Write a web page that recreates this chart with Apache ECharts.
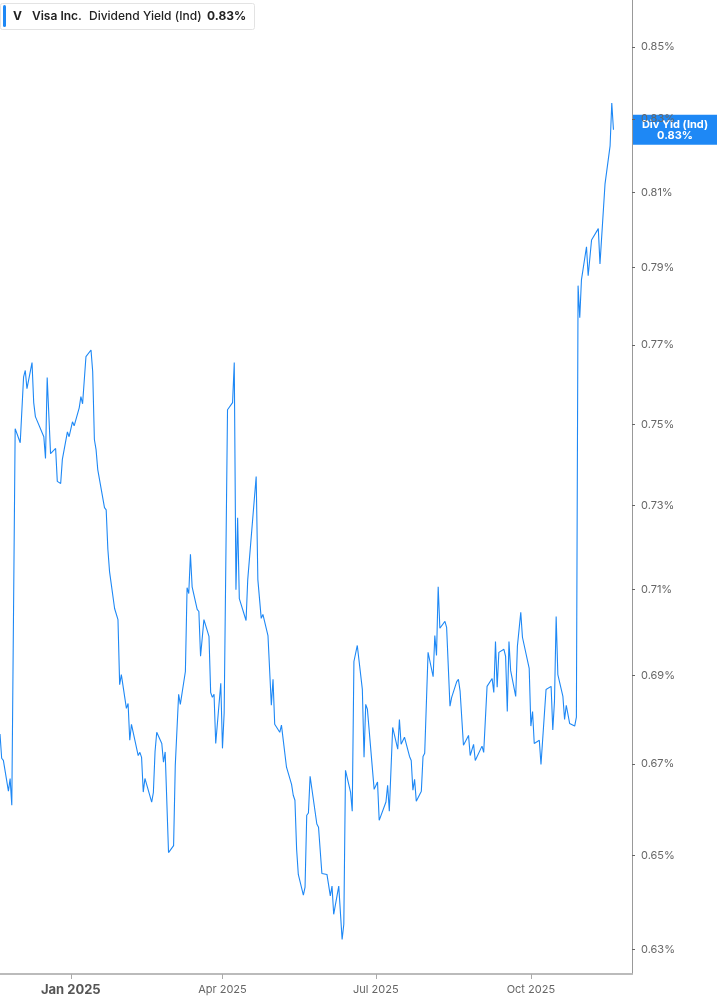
<!DOCTYPE html>
<html>
<head>
<meta charset="utf-8">
<title>Visa Inc. Dividend Yield (Ind)</title>
<script src="https://cdn.jsdelivr.net/npm/echarts@6.0.0/dist/echarts.min.js"></script>
<style>
  html, body { margin: 0; padding: 0; background: #fff; }
  #chart { width: 717px; height: 1005px; }
</style>
</head>
<body>
<div id="chart"></div>
<script>
// trading days (one per visible vertex)
var dates = [
  '2024-11-20','2024-11-21','2024-11-22','2024-11-25','2024-11-26','2024-11-27','2024-11-29',
  '2024-12-02','2024-12-04','2024-12-05','2024-12-06','2024-12-09','2024-12-10','2024-12-11','2024-12-16','2024-12-17',
  '2024-12-18','2024-12-20','2024-12-23','2024-12-24','2024-12-26','2024-12-27','2024-12-30','2024-12-31',
  '2025-01-02','2025-01-03','2025-01-06','2025-01-07','2025-01-08','2025-01-10','2025-01-13','2025-01-14','2025-01-15',
  '2025-01-16','2025-01-17','2025-01-21','2025-01-22','2025-01-23','2025-01-24','2025-01-27','2025-01-28','2025-01-29',
  '2025-01-30','2025-01-31',
  '2025-02-03','2025-02-04','2025-02-05','2025-02-06','2025-02-10','2025-02-11','2025-02-12','2025-02-13','2025-02-14',
  '2025-02-18','2025-02-19','2025-02-20','2025-02-21','2025-02-24','2025-02-25','2025-02-26','2025-02-28',
  '2025-03-03','2025-03-04','2025-03-05','2025-03-06','2025-03-07','2025-03-10','2025-03-11','2025-03-12','2025-03-13',
  '2025-03-14','2025-03-17','2025-03-18','2025-03-19','2025-03-20','2025-03-21','2025-03-24','2025-03-25','2025-03-26',
  '2025-03-27','2025-03-28','2025-03-31',
  '2025-04-01','2025-04-02','2025-04-03','2025-04-04','2025-04-07','2025-04-08','2025-04-09','2025-04-10','2025-04-11',
  '2025-04-15','2025-04-16','2025-04-21','2025-04-22','2025-04-24','2025-04-25','2025-04-28','2025-04-30',
  '2025-05-01','2025-05-02','2025-05-05','2025-05-06','2025-05-09','2025-05-12','2025-05-13','2025-05-14','2025-05-15',
  '2025-05-16','2025-05-19','2025-05-20','2025-05-21','2025-05-22','2025-05-23','2025-05-27','2025-05-28','2025-05-30',
  '2025-06-02','2025-06-03','2025-06-04','2025-06-05','2025-06-06','2025-06-09','2025-06-11','2025-06-12','2025-06-13',
  '2025-06-16','2025-06-17','2025-06-18','2025-06-20','2025-06-23','2025-06-24','2025-06-25','2025-06-26','2025-06-30',
  '2025-07-01','2025-07-02','2025-07-03','2025-07-07','2025-07-08','2025-07-09','2025-07-11','2025-07-14','2025-07-15',
  '2025-07-16','2025-07-18','2025-07-21','2025-07-22','2025-07-23','2025-07-24','2025-07-25','2025-07-28','2025-07-29',
  '2025-07-30',
  '2025-08-01','2025-08-04','2025-08-05','2025-08-06','2025-08-07','2025-08-08','2025-08-11','2025-08-12','2025-08-14',
  '2025-08-15','2025-08-18','2025-08-19','2025-08-20','2025-08-21','2025-08-22','2025-08-25','2025-08-26','2025-08-28',
  '2025-08-29',
  '2025-09-02','2025-09-03','2025-09-04','2025-09-05','2025-09-08','2025-09-09','2025-09-10','2025-09-11','2025-09-12',
  '2025-09-15','2025-09-16','2025-09-17','2025-09-18','2025-09-19','2025-09-22','2025-09-23','2025-09-24','2025-09-25',
  '2025-09-26','2025-09-30',
  '2025-10-01','2025-10-02','2025-10-03','2025-10-06','2025-10-07','2025-10-10','2025-10-13','2025-10-14','2025-10-15',
  '2025-10-16','2025-10-17','2025-10-20','2025-10-21','2025-10-22','2025-10-24','2025-10-27','2025-10-28','2025-10-29',
  '2025-10-30','2025-10-31',
  '2025-11-03','2025-11-04','2025-11-05','2025-11-06','2025-11-10','2025-11-11','2025-11-12','2025-11-14','2025-11-17',
  '2025-11-18','2025-11-19'
];

// dividend yield (ind), in percent
var yields = [
  0.6767, 0.6713, 0.6708, 0.6640, 0.6668, 0.6609, 0.7489,
  0.7454, 0.7619, 0.7635, 0.7589, 0.7655, 0.7554, 0.7519, 0.7469, 0.7415,
  0.7617, 0.7427, 0.7440, 0.7359, 0.7354, 0.7413, 0.7481, 0.7469,
  0.7506, 0.7496, 0.7541, 0.7569, 0.7551, 0.7670, 0.7687, 0.7632, 0.7462,
  0.7437, 0.7388, 0.7295, 0.7290, 0.7195, 0.7142, 0.7055, 0.7054, 0.7029,
  0.6879, 0.6902,
  0.6825, 0.6836, 0.6753, 0.6789, 0.6719, 0.6726, 0.6715, 0.6638, 0.6668,
  0.6616, 0.6637, 0.6728, 0.6771, 0.6746, 0.6704, 0.6727, 0.6506,
  0.6521, 0.6697, 0.6693, 0.6857, 0.6834, 0.6909, 0.7104, 0.7090, 0.7183,
  0.7106, 0.7053, 0.7048, 0.6944, 0.6948, 0.7029, 0.6990, 0.6861, 0.6850,
  0.6857, 0.6746, 0.6882,
  0.6735, 0.6814, 0.6816, 0.7536, 0.7554, 0.7655, 0.7099, 0.7271, 0.7078,
  0.7027, 0.7123, 0.7371, 0.7123, 0.7032, 0.7041, 0.6992, 0.6832,
  0.6891, 0.6789, 0.6771, 0.6787, 0.6693, 0.6655, 0.6631, 0.6620, 0.6513,
  0.6459, 0.6415, 0.6432, 0.6587, 0.6592, 0.6673, 0.6568, 0.6561, 0.6461,
  0.6459, 0.6455, 0.6413, 0.6434, 0.6374, 0.6434, 0.6321, 0.6353, 0.6686,
  0.6638, 0.6596, 0.6932, 0.6969, 0.6868, 0.6715, 0.6834, 0.6823, 0.6644,
  0.6640, 0.6660, 0.6576, 0.6616, 0.6653, 0.6596, 0.6782, 0.6733, 0.6800,
  0.6744, 0.6760, 0.6717, 0.6708, 0.6642, 0.6666, 0.6618, 0.6640, 0.6717,
  0.6724,
  0.6953, 0.6897, 0.6992, 0.6946, 0.7106, 0.7009, 0.7025, 0.7011, 0.6830,
  0.6850, 0.6886, 0.6891, 0.6864, 0.6863, 0.6742, 0.6764, 0.6719, 0.6744,
  0.6708,
  0.6740, 0.6726, 0.6724, 0.6875, 0.6893, 0.6861, 0.6978, 0.6873, 0.6953,
  0.6960, 0.6944, 0.6818, 0.6978, 0.6911, 0.6852, 0.6967, 0.6969, 0.7046,
  0.6988, 0.6916,
  0.6785, 0.6818, 0.6746, 0.6753, 0.6699, 0.6868, 0.6875, 0.6776, 0.6841,
  0.7036, 0.6902, 0.6852, 0.6800, 0.6832, 0.6791, 0.6785, 0.6805, 0.7853,
  0.7770, 0.7868,
  0.7955, 0.7879, 0.7881, 0.7973, 0.8003, 0.7910, 0.7911, 0.8123, 0.8226,
  0.8344, 0.8270
];

var yTicks = [0.63, 0.65, 0.67, 0.69, 0.71, 0.73, 0.75, 0.77, 0.79, 0.81, 0.83, 0.85];
var xTicks = ['2025-01-01', '2025-04-01', '2025-07-01', '2025-10-01'];
var xRange = ['2024-11-20', '2025-11-30'];
var monthNames = ['Jan','Feb','Mar','Apr','May','Jun','Jul','Aug','Sep','Oct','Nov','Dec'];

var blue = '#1e88f5';
var font = 'Inter, "Noto Sans", sans-serif';

function toTime(s) {
  var p = s.split('-');
  return new Date(+p[0], +p[1] - 1, +p[2]).getTime();
}

var chart = echarts.init(document.getElementById('chart'));

var points = dates.map(function (d, i) { return [toTime(d), yields[i]]; });
var xTickTimes = xTicks.map(toTime);
var last = yields[yields.length - 1];

chart.setOption({
  animation: false,
  grid: { left: 0, right: 85, top: 0, bottom: 31 },
  xAxis: {
    type: 'value',
    min: toTime(xRange[0]),
    max: toTime(xRange[1]),
    axisLine: { show: true, lineStyle: { color: '#bbb', width: 2 } },
    axisTick: { show: true, customValues: xTickTimes, length: 5, lineStyle: { color: '#aaa' } },
    axisLabel: {
      customValues: xTickTimes,
      margin: 10,
      color: '#666',
      fontSize: 11,
      fontFamily: font,
      formatter: function (v) {
        var d = new Date(v);
        var s = monthNames[d.getMonth()] + ' ' + d.getFullYear();
        return d.getMonth() === 0 ? '{yr|' + s + '}' : s;
      },
      rich: {
        yr: { fontSize: 13, fontWeight: 'bold', color: '#555', fontFamily: font }
      }
    },
    splitLine: { show: false }
  },
  yAxis: {
    type: 'log',
    logBase: 10,
    position: 'right',
    min: 0.6249,
    max: 0.8634,
    axisLine: { show: true, lineStyle: { color: '#999' } },
    axisTick: { show: true, customValues: yTicks, length: 3, lineStyle: { color: '#666' } },
    axisLabel: {
      customValues: yTicks,
      margin: 9,
      color: '#666',
      fontSize: 11,
      fontFamily: font,
      formatter: function (v) { return v.toFixed(2) + '%'; }
    },
    splitLine: { show: false }
  },
  series: [{
    type: 'line',
    data: points,
    showSymbol: false,
    symbol: 'none',
    lineStyle: { color: blue, width: 1.1 },
    itemStyle: { color: blue }
  }]
});

// header chip and current value flag on the axis
var py = chart.convertToPixel({ gridIndex: 0 }, points[points.length - 1])[1];

chart.setOption({
  graphic: [
    {
      type: 'group', x: 0, y: 0, z: 100,
      children: [
        { type: 'rect', shape: { x: 0.5, y: 3.5, width: 254, height: 26, r: 2 },
          style: { fill: '#fff', stroke: '#e3e3e3', lineWidth: 1 } },
        { type: 'rect', shape: { x: 3, y: 5, width: 3, height: 22, r: 1.5 }, style: { fill: blue } },
        { type: 'text', x: 13, y: 16, style: { text: 'V', font: 'bold 12px ' + font, fill: '#222', verticalAlign: 'middle' } },
        { type: 'text', x: 32, y: 16, style: { text: 'Visa Inc.', font: '600 12px ' + font, fill: '#222', verticalAlign: 'middle' } },
        { type: 'text', x: 89, y: 16, style: { text: 'Dividend Yield (Ind)', font: '500 12px ' + font, fill: '#222', verticalAlign: 'middle' } },
        { type: 'text', x: 207, y: 16, style: { text: last.toFixed(2) + '%', font: 'bold 12px ' + font, fill: '#222', verticalAlign: 'middle' } }
      ]
    },
    {
      type: 'group', x: 0, y: 0, z: 100,
      children: [
        { type: 'rect', shape: { x: 633, y: py - 15, width: 84, height: 30 }, style: { fill: blue } },
        { type: 'text', x: 675, y: py - 5, style: { text: 'Div Yld (Ind)', font: 'bold 11px ' + font, fill: '#fff', align: 'center', verticalAlign: 'middle' } },
        { type: 'text', x: 675, y: py + 6, style: { text: last.toFixed(2) + '%', font: 'bold 11px ' + font, fill: '#fff', align: 'center', verticalAlign: 'middle' } }
      ]
    }
  ]
});
</script>
</body>
</html>
